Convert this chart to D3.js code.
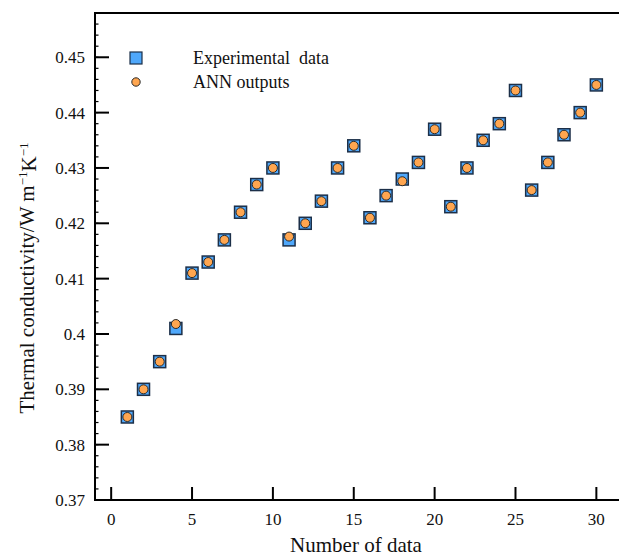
<!DOCTYPE html>
<html><head><meta charset="utf-8">
<script src="https://cdn.jsdelivr.net/npm/d3@7"></script>
<style>body{margin:0;background:#fff}svg{display:block}</style>
</head><body><div id="c"></div>
<script>
const indices = d3.range(1, 31);
const experimental = [0.385,0.390,0.395,0.401,0.411,0.413,0.417,0.422,0.427,0.430,
  0.417,0.420,0.424,0.430,0.434,0.421,0.425,0.428,0.431,0.437,
  0.423,0.430,0.435,0.438,0.444,0.426,0.431,0.436,0.440,0.445];
const annOutputs = [0.385,0.390,0.395,0.4018,0.411,0.413,0.417,0.422,0.427,0.430,
  0.4176,0.420,0.424,0.430,0.434,0.421,0.425,0.4276,0.431,0.437,
  0.423,0.430,0.435,0.438,0.444,0.426,0.431,0.436,0.440,0.445];
const xTicks = [0,5,10,15,20,25,30];
const yTicks = [0.37,0.38,0.39,0.40,0.41,0.42,0.43,0.44,0.45];
const yTickLabels = ["0.37","0.38","0.39","0.4","0.41","0.42","0.43","0.44","0.45"];
const legendLabels = ["Experimental\u00a0\u00a0data","ANN outputs"];

const FONT="'Liberation Serif', 'DejaVu Serif', serif";
const W=619,H=557;
const svg=d3.select("#c").append("svg").attr("width",W).attr("height",H)
  .attr("font-family",FONT).style("font-family",FONT);
const x=d3.scaleLinear().domain([-1,31.4]).range([95,619]);
const y=d3.scaleLinear().domain([0.37,0.458]).range([500,13]);

const yMinor=d3.range(0,45).map(i=>0.37+i*0.002).filter(v=>v<0.4585);
svg.append("g").selectAll("line").data(yMinor).join("line")
  .attr("x1",95).attr("x2",98.5).attr("y1",d=>y(d)).attr("y2",d=>y(d))
  .attr("stroke","#000").attr("stroke-width",1.2);
svg.append("g").selectAll("line").data(yTicks).join("line")
  .attr("x1",95).attr("x2",109).attr("y1",d=>y(d)).attr("y2",d=>y(d))
  .attr("stroke","#000").attr("stroke-width",2);
svg.append("g").selectAll("text").data(yTicks).join("text")
  .attr("x",85).attr("y",d=>y(d)).attr("dy","0.35em").attr("text-anchor","end")
  .attr("font-size",17).attr("fill","#111").text((d,i)=>yTickLabels[i]);
svg.append("g").selectAll("line").data(xTicks).join("line")
  .attr("x1",d=>x(d)).attr("x2",d=>x(d)).attr("y1",500).attr("y2",487)
  .attr("stroke","#000").attr("stroke-width",2);
svg.append("g").selectAll("text").data(xTicks).join("text")
  .attr("x",d=>x(d)).attr("y",519).attr("dy","0.35em").attr("text-anchor","middle")
  .attr("font-size",17).attr("fill","#111").text(d=>d);
svg.append("path").attr("d","M619,13H95V500H619").attr("fill","none")
  .attr("stroke","#000").attr("stroke-width",2);

const s=12;
svg.append("g").selectAll("rect").data(experimental).join("rect")
  .attr("x",(d,i)=>x(indices[i])-s/2).attr("y",d=>y(d)-s/2)
  .attr("width",s).attr("height",s).attr("fill","#4fa8fb")
  .attr("stroke","#1c2f48").attr("stroke-width",1.5);
svg.append("g").selectAll("circle").data(annOutputs).join("circle")
  .attr("cx",(d,i)=>x(indices[i])).attr("cy",d=>y(d)).attr("r",4.5)
  .attr("fill","#ffa650").attr("stroke","#2a2a2a").attr("stroke-width",1);

svg.append("rect").attr("x",130).attr("y",52).attr("width",s).attr("height",s)
  .attr("fill","#4fa8fb").attr("stroke","#1c2f48").attr("stroke-width",1.2);
svg.append("circle").attr("cx",136).attr("cy",82).attr("r",4.2)
  .attr("fill","#ffa650").attr("stroke","#2a2a2a").attr("stroke-width",1);
svg.append("text").attr("x",193).attr("y",58).attr("dy","0.35em").attr("font-size",18)
  .attr("fill","#111").text(legendLabels[0]);
svg.append("text").attr("x",193).attr("y",82).attr("dy","0.35em").attr("font-size",18)
  .attr("fill","#111").text(legendLabels[1]);

svg.append("text").attr("x",356).attr("y",545).attr("dy","0.35em").attr("text-anchor","middle")
  .attr("font-size",21).attr("fill","#111").text("Number of data");
const yt=svg.append("text").attr("transform","translate(27,278) rotate(-90)")
  .attr("text-anchor","middle").attr("dy","0.35em").attr("font-size",21).attr("fill","#111");
yt.append("tspan").text("Thermal conductivity/W m");
yt.append("tspan").attr("font-size",13).attr("dy","-0.6em").text("\u22121");
yt.append("tspan").attr("dy","0.45em").text("K");
yt.append("tspan").attr("font-size",13).attr("dy","-0.6em").text("\u22121");
</script></body></html>
